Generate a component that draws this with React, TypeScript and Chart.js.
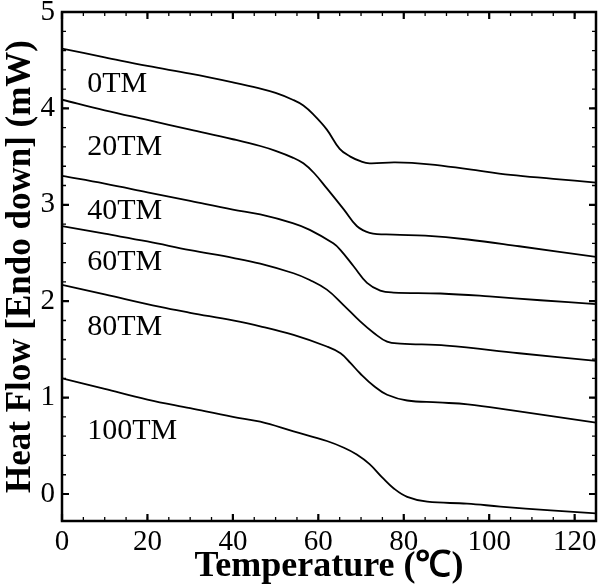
import React, { useEffect, useRef } from "react";
import { Chart, registerables } from "chart.js";

Chart.register(...registerables);

const x0TM = [0, 10, 20, 30, 40, 46, 50, 54, 56.5, 59, 62, 65, 67.5, 70, 72, 78, 86, 95, 105, 115, 125];
const y0TM = [4.62, 4.53, 4.44, 4.36, 4.27, 4.21, 4.16, 4.09, 4.03, 3.93, 3.78, 3.58, 3.5, 3.45, 3.43, 3.44, 3.42, 3.37, 3.31, 3.27, 3.23];

const x20TM = [0, 10, 20, 30, 40, 46.4, 50, 54, 56.5, 59, 62, 66, 69, 72, 77.6, 85, 95, 107, 125];
const y20TM = [4.09, 3.98, 3.88, 3.78, 3.68, 3.61, 3.56, 3.49, 3.43, 3.33, 3.17, 2.95, 2.78, 2.71, 2.69, 2.68, 2.64, 2.57, 2.46];

const x40TM = [0, 10, 20, 30, 40, 46.4, 54, 58, 63.5, 65.2, 68.3, 71.4, 74.5, 77.6, 88.6, 100, 112, 125];
const y40TM = [3.3, 3.22, 3.13, 3.04, 2.95, 2.9, 2.81, 2.74, 2.6, 2.53, 2.36, 2.19, 2.11, 2.09, 2.08, 2.05, 2.01, 1.97];

const x60TM = [0, 10, 20, 30, 40, 46.4, 54.2, 58, 62, 65.9, 69.8, 73, 76.1, 79.2, 90, 107, 125];
const y60TM = [2.78, 2.7, 2.62, 2.53, 2.45, 2.39, 2.29, 2.22, 2.12, 1.96, 1.79, 1.67, 1.58, 1.56, 1.54, 1.46, 1.38];

const x80TM = [0, 10, 23, 30, 40, 46.4, 54.2, 62, 65.2, 67.5, 69.8, 73, 76.1, 80.8, 88, 95, 105, 125];
const y80TM = [2.17, 2.07, 1.94, 1.88, 1.8, 1.74, 1.65, 1.53, 1.46, 1.36, 1.25, 1.12, 1.03, 0.97, 0.95, 0.93, 0.87, 0.74];

const x100TM = [0, 10, 20, 30, 40, 46.4, 54.2, 62, 66, 69, 72, 75, 77.6, 80.8, 85.5, 94.8, 102.6, 114.4, 125];
const y100TM = [1.2, 1.09, 0.98, 0.89, 0.8, 0.75, 0.65, 0.55, 0.48, 0.41, 0.31, 0.17, 0.06, -0.03, -0.08, -0.1, -0.13, -0.17, -0.2];

const seriesNames = ["0TM", "20TM", "40TM", "60TM", "80TM", "100TM"];
const seriesX = [x0TM, x20TM, x40TM, x60TM, x80TM, x100TM];
const seriesY = [y0TM, y20TM, y40TM, y60TM, y80TM, y100TM];

const labelX = [5.9, 5.9, 5.9, 5.9, 5.9, 5.9];
const labelY = [4.17, 3.52, 2.85, 2.32, 1.65, 0.57];

const xTicks = [0, 20, 40, 60, 80, 100, 120];
const yTicks = [0, 1, 2, 3, 4, 5];
const xMinorStep = 5;
const yMinorStep = 0.2;
const xMin = 0, xMax = 125, yMin = -0.28, yMax = 5;

const FONT = "'Liberation Serif', 'Times New Roman', serif";

const framePlugin = {
  id: "framePlugin",
  afterDraw(chart: any) {
    const { ctx, chartArea, scales } = chart;
    const { left, right, top, bottom } = chartArea;
    const xs = scales.x, ys = scales.y;
    ctx.save();
    ctx.strokeStyle = "#000";
    ctx.lineCap = "butt";
    ctx.lineWidth = 1.3;
    ctx.beginPath();
    for (let v = xMin; v <= xMax + 1e-9; v += xMinorStep) {
      const p = xs.getPixelForValue(v);
      ctx.moveTo(p, bottom); ctx.lineTo(p, bottom - 4);
      ctx.moveTo(p, top); ctx.lineTo(p, top + 4);
    }
    for (let v = 0; v <= yMax + 1e-9; v += yMinorStep) {
      const p = ys.getPixelForValue(v);
      ctx.moveTo(left, p); ctx.lineTo(left + 4, p);
      ctx.moveTo(right, p); ctx.lineTo(right - 4, p);
    }
    ctx.stroke();
    ctx.lineWidth = 2.2;
    ctx.beginPath();
    for (const v of xTicks) {
      const p = xs.getPixelForValue(v);
      ctx.moveTo(p, bottom); ctx.lineTo(p, bottom - 7);
      ctx.moveTo(p, top); ctx.lineTo(p, top + 7);
    }
    for (const v of yTicks) {
      const p = ys.getPixelForValue(v);
      ctx.moveTo(left, p); ctx.lineTo(left + 7, p);
      ctx.moveTo(right, p); ctx.lineTo(right - 7, p);
    }
    ctx.stroke();
    ctx.lineWidth = 2.5;
    ctx.strokeRect(left, top, right - left, bottom - top);
    ctx.fillStyle = "#000";
    ctx.font = `30px ${FONT}`;
    ctx.textAlign = "left";
    ctx.textBaseline = "alphabetic";
    seriesNames.forEach((n, i) => {
      ctx.fillText(n, xs.getPixelForValue(labelX[i]), ys.getPixelForValue(labelY[i]));
    });
    ctx.restore();
  },
};

export default function App() {
  const ref = useRef<HTMLCanvasElement>(null);
  useEffect(() => {
    document.body.style.margin = "0";
    const canvas = ref.current;
    if (!canvas) return;
    const datasets = seriesNames.map((n, i) => ({
      label: n,
      data: seriesX[i].map((x, j) => ({ x, y: seriesY[i][j] })),
      borderColor: "#000",
      borderWidth: 1.8,
      pointRadius: 0,
      fill: false,
      tension: 0.4,
    }));
    const chart = new Chart(canvas, {
      type: "line",
      data: { datasets },
      plugins: [framePlugin],
      options: {
        animation: false,
        responsive: false,
        devicePixelRatio: 1,
        layout: { padding: { top: 12, right: 5, left: 0, bottom: 0 } },
        plugins: { legend: { display: false }, tooltip: { enabled: false } },
        scales: {
          x: {
            type: "linear",
            min: xMin,
            max: xMax,
            grid: { display: false, drawTicks: false },
            border: { display: false },
            afterBuildTicks: (s: any) => { s.ticks = xTicks.map((v) => ({ value: v })); },
            afterFit: (s: any) => { s.height = 67; s.paddingLeft = 0; s.paddingRight = 0; },
            ticks: { color: "#000", padding: 4, maxRotation: 0, autoSkip: false, font: { family: FONT, size: 29 } },
            title: {
              display: true,
              text: "Temperature (℃)",
              color: "#000",
              padding: { top: 0, bottom: 0 },
              font: { family: FONT, size: 36, weight: "bold" },
            },
          },
          y: {
            type: "linear",
            min: yMin,
            max: yMax,
            grid: { display: false, drawTicks: false },
            border: { display: false },
            afterBuildTicks: (s: any) => { s.ticks = yTicks.map((v) => ({ value: v })); },
            afterFit: (s: any) => { s.width = 62; s.paddingTop = 0; s.paddingBottom = 0; },
            ticks: { color: "#000", padding: 7, autoSkip: false, font: { family: FONT, size: 29 } },
            title: {
              display: true,
              text: "Heat Flow [Endo down] (mW)",
              color: "#000",
              padding: { top: 0, bottom: 0 },
              font: { family: FONT, size: 35, weight: "bold" },
            },
          },
        },
      },
    });
    return () => chart.destroy();
  }, []);
  return (
    <div style={{ width: 601, height: 588 }}>
      <canvas ref={ref} width={601} height={588} style={{ display: "block" }} />
    </div>
  );
}
